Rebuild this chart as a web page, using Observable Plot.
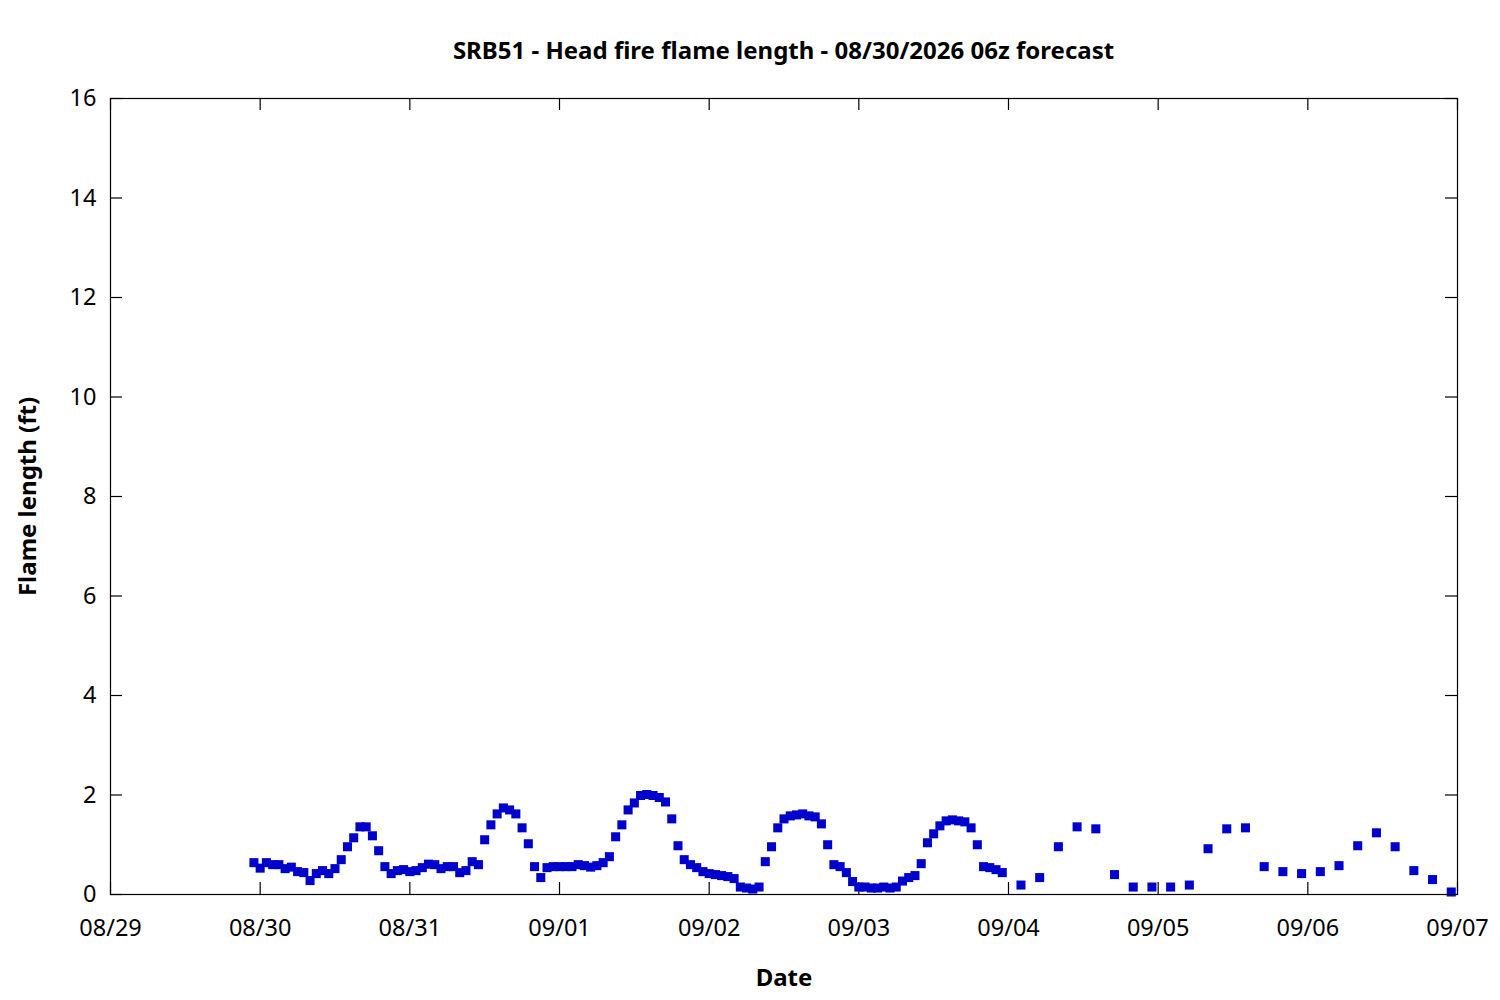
<!DOCTYPE html>
<html><head><meta charset="utf-8">
<script src="https://cdn.jsdelivr.net/npm/d3@7"></script>
<script src="https://cdn.jsdelivr.net/npm/@observablehq/plot@0.6"></script>
<style>
body{margin:0;background:#fff;font-family:"Noto Sans",sans-serif;}
#title{box-sizing:border-box;height:80px;width:1500px;padding:38px 43px 0 110px;text-align:center;font-weight:bold;font-size:24px;line-height:24px;color:#000;}
#chart svg{display:block;}
</style></head><body>
<div id="title">SRB51 - Head fire flame length - 08/30/2026 06z forecast</div>
<div id="chart"></div>
<script>
const titleText = "SRB51 - Head fire flame length - 08/30/2026 06z forecast";
const xLabel = "Date";
const yLabel = "Flame length (ft)";

// hourly forecast, starting 08/29 23:00
const hourlyStart = "2026-08-29T23:00:00Z";
const hourlyValues = [
  0.64,0.53,0.64,0.60,0.60,0.52,0.55,0.46,0.44,0.28,
  0.42,0.48,0.42,0.52,0.70,0.96,1.14,1.36,1.36,1.18,
  0.88,0.56,0.42,0.48,0.50,0.46,0.48,0.54,0.61,0.60,
  0.52,0.56,0.56,0.44,0.48,0.66,0.60,1.10,1.40,1.62,
  1.74,1.70,1.62,1.34,1.02,
  0.56,0.34,0.54,0.56,0.56,0.56,0.56,0.60,0.58,0.55,
  0.58,0.64,0.76,1.16,1.40,1.70,1.84,1.99,2.01,1.99,
  1.95,1.86,1.52,0.98,0.70,0.60,0.54,0.46,0.42,0.40,
  0.38,0.36,0.32,0.15,0.13,0.11,0.15,0.66,0.96,1.34,
  1.52,1.58,1.60,1.62,1.58,1.56,
  1.42,1.00,0.60,0.56,0.44,0.26,0.15,0.15,0.13,0.13,
  0.15,0.13,0.15,0.27,0.34,0.38,0.62,1.04,1.22,1.38,
  1.48,1.50,1.48,1.46,1.34,1.00,0.56,0.54,0.50,0.44
];
// 3-hourly forecast, starting 09/04 02:00
const threeHourlyStart = "2026-09-04T02:00:00Z";
const threeHourlyValues = [
  0.19,0.34,0.96,1.36,1.32,0.40,0.15,0.15,
  0.15,0.19,0.92,1.32,1.34,0.56,0.46,0.42,
  0.46,0.58,0.98,1.24,0.96,0.48,0.30,0.05
];

const xDomain = ["2026-08-29T00:00:00Z", "2026-09-07T00:00:00Z"];
const xTickDates = ["2026-08-29","2026-08-30","2026-08-31","2026-09-01","2026-09-02","2026-09-03","2026-09-04","2026-09-05","2026-09-06","2026-09-07"];
const yTicks = [0,2,4,6,8,10,12,14,16];

const HOUR = 3600e3;
const data = [
  ...hourlyValues.map((v,i)=>({time:new Date(new Date(hourlyStart).getTime()+i*HOUR), value:v})),
  ...threeHourlyValues.map((v,i)=>({time:new Date(new Date(threeHourlyStart).getTime()+i*3*HOUR), value:v}))
];
const tickDates = xTickDates.map(d=>new Date(d+"T00:00:00Z"));

const W=1500, H=920, mT=18, mL=110, mR=43, mB=106;
const plotW = W-mL-mR, plotH = H-mT-mB, tickLen = 12;

const chart = Plot.plot({
  width:W, height:H, marginTop:mT, marginLeft:mL, marginRight:mR, marginBottom:mB,
  style:{fontFamily:'"Noto Sans", sans-serif', fontSize:"23.5px", color:"#000", background:"#fff", overflow:"visible"},
  x:{type:"utc", domain:xDomain.map(d=>new Date(d))},
  y:{domain:[0,16]},
  marks:[
    Plot.tickX(tickDates, {x:d=>d, insetTop:plotH-tickLen, stroke:"#000", strokeWidth:1.2}),
    Plot.tickX(tickDates, {x:d=>d, insetBottom:plotH-tickLen, stroke:"#000", strokeWidth:1.2}),
    Plot.tickY(yTicks, {y:d=>d, insetRight:plotW-tickLen, stroke:"#000", strokeWidth:1.2}),
    Plot.tickY(yTicks, {y:d=>d, insetLeft:plotW-tickLen, stroke:"#000", strokeWidth:1.2}),
    Plot.axisX(tickDates, {tickSize:0, tickPadding:25, tickFormat:d3.utcFormat("%m/%d"), fontSize:23.5, label:null}),
    Plot.axisY(yTicks, {tickSize:0, tickPadding:14, tickFormat:d3.format("d"), fontSize:23.5, label:null}),
    Plot.dot(data, {x:"time", y:"value", symbol:"square", r:5.1, fill:"#0000cc", stroke:null}),
    Plot.frame({stroke:"#000", strokeWidth:1.2}),
    Plot.text([xLabel], {frameAnchor:"bottom", dy:91, fontWeight:"bold", fontSize:24, textAnchor:"middle"}),
    Plot.text([yLabel], {frameAnchor:"left", dx:-82, rotate:-90, fontWeight:"bold", fontSize:24, textAnchor:"middle"})
  ]
});
document.getElementById("chart").appendChild(chart);
</script>
</body></html>
